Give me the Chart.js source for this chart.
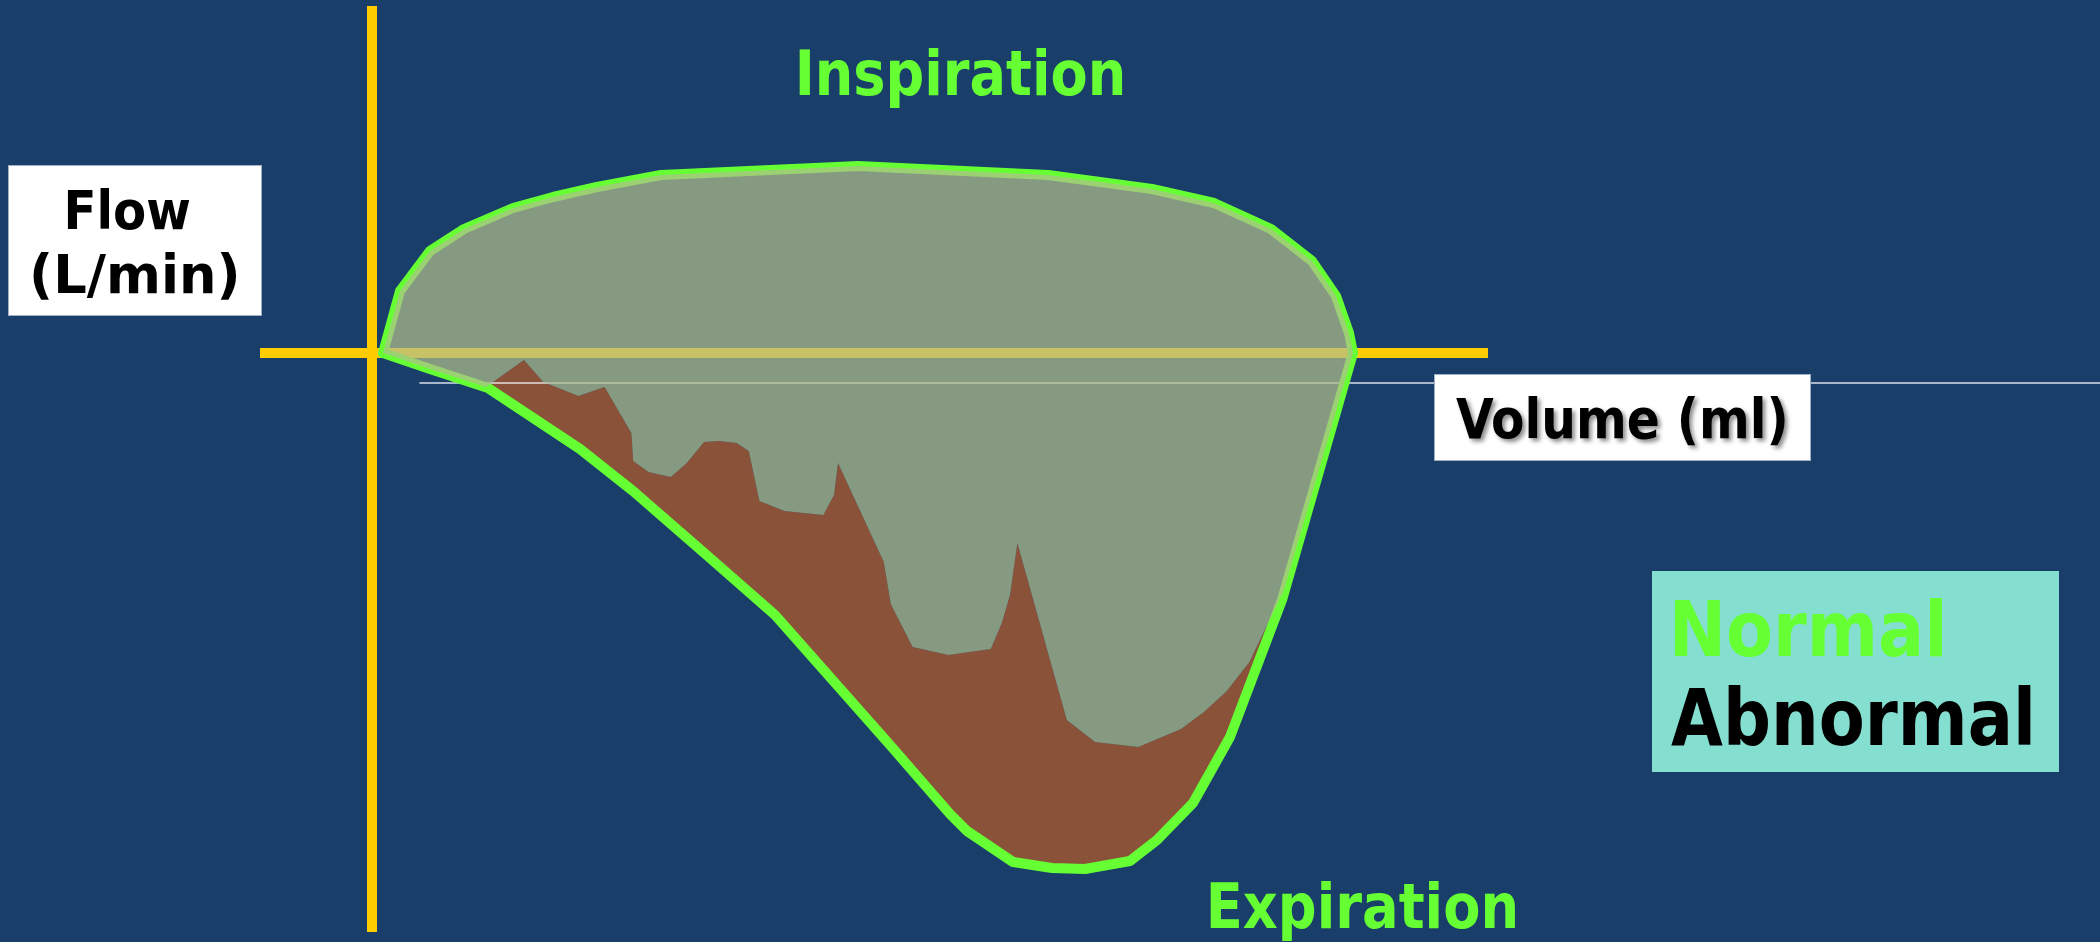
<!DOCTYPE html>
<html>
<head>
<meta charset="utf-8">
<script src="https://cdn.jsdelivr.net/npm/chart.js@4.4.1/dist/chart.umd.min.js"></script>
<style>
  html, body { margin: 0; padding: 0; background: #193e6a; overflow: hidden; }
  canvas { display: block; }
</style>
</head>
<body>
<canvas id="loop" width="2100" height="942"></canvas>
<script>
// Flow–volume loop. Volume in ml, flow in L/min (inspiration positive, expiration negative).

// Inspiratory limb (shared by the normal and the abnormal loop)
const inspVolume = [0, 85, 235, 405, 650, 850, 1070, 1390, 2375, 3325, 3845, 4155, 4440, 4645, 4765, 4830, 4850];
const inspFlow   = [0, 62, 102, 124, 145, 156, 166, 178, 187, 178, 164, 150, 124, 92, 57, 20, 0];

// Normal expiratory limb
const normalExpVolume = [0, 235, 525, 985, 1250, 1635, 1960, 2535, 2835, 2920, 3150, 3345, 3510, 3735, 3870, 4050, 4235, 4495, 4850];
const normalExpFlow   = [0, -16, -35, -96, -138, -205, -262, -392, -461, -478, -509, -515, -516, -508, -487, -450, -384, -247, 0];

// Abnormal (obstructed, saw-toothed) expiratory limb
const abnormalExpVolume = [0, 235, 515, 705, 801, 977, 1108, 1242, 1251, 1328,
  1439, 1519, 1605, 1682, 1768, 1829, 1882, 2007, 2202, 2255,
  2275, 2504, 2539, 2648, 2827, 3039, 3094, 3135, 3172, 3419,
  3560, 3777, 3990, 4105, 4219, 4332, 4505, 4850];
const abnormalExpFlow = [0, -16, -34, -7, -29, -43, -34, -80, -108, -119,
  -124, -110, -89, -88, -90, -98, -148, -158, -162, -142,
  -110, -209, -251, -294, -302, -296, -270, -242, -190, -367,
  -389, -394, -376, -359, -338, -309, -237, 0];

// Thin reference line just below zero flow
const guideVolume = [185, 8585];
const guideFlow   = [-30, -30];

// Axis ranges of the plot
const volumeRange = [-1915, 8585];
const flowRange   = [-589, 353];

const LIME = '#66ff33';
const BROWN = '#8a5339';
const SHADE = 'rgba(176,190,140,0.72)';
const YELLOW = '#ffcc00';
const BG = '#193e6a';
const FONT = '"DejaVu Sans", "Liberation Sans", sans-serif';

const pts = (xs, ys) => xs.map((x, i) => ({ x, y: ys[i] }));

// Background
const backdrop = {
  id: 'backdrop',
  beforeDraw(chart) {
    const { ctx, width, height } = chart;
    ctx.save();
    ctx.fillStyle = BG;
    ctx.fillRect(0, 0, width, height);
    ctx.restore();
  }
};

// Yellow volume / flow axes crossing near the origin
const crossAxes = {
  id: 'crossAxes',
  beforeDatasetsDraw(chart) {
    const { ctx, scales: { x, y } } = chart;
    ctx.save();
    ctx.strokeStyle = YELLOW;
    ctx.lineWidth = 10;
    ctx.lineCap = 'butt';
    // flow axis
    const vx = x.getPixelForValue(-55);
    ctx.beginPath();
    ctx.moveTo(vx, y.getPixelForValue(347));
    ctx.lineTo(vx, y.getPixelForValue(-579));
    ctx.stroke();
    // volume axis
    const hy = y.getPixelForValue(0);
    ctx.beginPath();
    ctx.moveTo(x.getPixelForValue(-615), hy);
    ctx.lineTo(x.getPixelForValue(5525), hy);
    ctx.stroke();
    ctx.restore();
  }
};

// Draw bold text so that its ink spans [left, left+width], on the given baseline
function fitText(ctx, text, left, baseline, size, width, color, shadow) {
  ctx.save();
  ctx.font = `bold ${size}px ${FONT}`;
  ctx.textBaseline = 'alphabetic';
  ctx.textAlign = 'left';
  const m = ctx.measureText(text);
  const ink = m.actualBoundingBoxLeft + m.actualBoundingBoxRight;
  if (shadow) {
    ctx.shadowColor = 'rgba(0,0,0,0.45)';
    ctx.shadowBlur = 4;
    ctx.shadowOffsetX = 3;
    ctx.shadowOffsetY = 3;
  }
  ctx.translate(left, baseline);
  ctx.scale(width / ink, 1);
  ctx.fillStyle = color;
  ctx.fillText(text, m.actualBoundingBoxLeft, 0);
  ctx.restore();
}

function box(ctx, x, y, w, h, fill, stroke) {
  ctx.save();
  ctx.fillStyle = fill;
  ctx.fillRect(x, y, w, h);
  if (stroke) {
    ctx.strokeStyle = stroke;
    ctx.lineWidth = 1;
    ctx.strokeRect(x + 0.5, y + 0.5, w - 1, h - 1);
  }
  ctx.restore();
}

// Axis titles, phase labels and key
const annotations = {
  id: 'annotations',
  afterDraw(chart) {
    const { ctx } = chart;
    box(ctx, 8, 165, 254, 151, '#ffffff', '#9fb0c4');
    fitText(ctx, 'Flow', 67, 229, 54, 123, '#000000');
    fitText(ctx, '(L/min)', 33, 293, 54, 204, '#000000');

    box(ctx, 1434, 374, 377, 87, '#ffffff', '#9fb0c4');
    fitText(ctx, 'Volume (ml)', 1456, 438, 55, 329, '#000000', true);

    fitText(ctx, 'Inspiration', 799, 95, 63, 323, LIME);
    fitText(ctx, 'Expiration', 1210, 928, 63, 305, LIME);

    box(ctx, 1652, 571, 407, 201, '#85dfd0');
    fitText(ctx, 'Normal', 1675, 656, 77, 267, LIME);
    fitText(ctx, 'Abnormal', 1671, 745, 78, 360, '#000000');
  }
};

new Chart(document.getElementById('loop'), {
  type: 'scatter',
  data: {
    datasets: [
      { // interior of the abnormal loop (inspiratory limb down to abnormal expiratory limb)
        label: 'Abnormal loop',
        data: pts(inspVolume, inspFlow),
        showLine: true,
        borderWidth: 0,
        borderColor: 'rgba(0,0,0,0)',
        backgroundColor: SHADE,
        fill: { target: 4 },
        order: 0
      },
      { // normal inspiratory limb
        label: 'Normal inspiration',
        data: pts(inspVolume, inspFlow),
        showLine: true,
        borderColor: LIME,
        borderWidth: 10,
        fill: false,
        order: 1
      },
      { // normal expiratory limb
        label: 'Normal expiration',
        data: pts(normalExpVolume, normalExpFlow),
        showLine: true,
        borderColor: LIME,
        borderWidth: 10,
        fill: false,
        order: 1
      },
      { // thin reference line
        label: 'Reference',
        data: pts(guideVolume, guideFlow),
        showLine: true,
        borderColor: 'rgba(235,240,245,0.9)',
        borderWidth: 1.6,
        fill: false,
        order: 2
      },
      { // abnormal expiratory limb, flow lost relative to normal shaded brown
        label: 'Abnormal expiration',
        data: pts(abnormalExpVolume, abnormalExpFlow),
        showLine: true,
        borderWidth: 0,
        borderColor: 'rgba(0,0,0,0)',
        backgroundColor: BROWN,
        fill: { target: 2 },
        order: 3
      }
    ]
  },
  options: {
    responsive: false,
    animation: false,
    devicePixelRatio: 1,
    events: [],
    layout: { padding: 0 },
    elements: {
      point: { radius: 0, hoverRadius: 0 },
      line: { tension: 0, borderJoinStyle: 'round', borderCapStyle: 'round' }
    },
    scales: {
      x: { type: 'linear', display: false, min: volumeRange[0], max: volumeRange[1] },
      y: { type: 'linear', display: false, min: flowRange[0], max: flowRange[1] }
    },
    plugins: {
      legend: { display: false },
      title: { display: false },
      tooltip: { enabled: false },
      filler: { propagate: false }
    }
  },
  plugins: [backdrop, crossAxes, annotations]
});
</script>
</body>
</html>
